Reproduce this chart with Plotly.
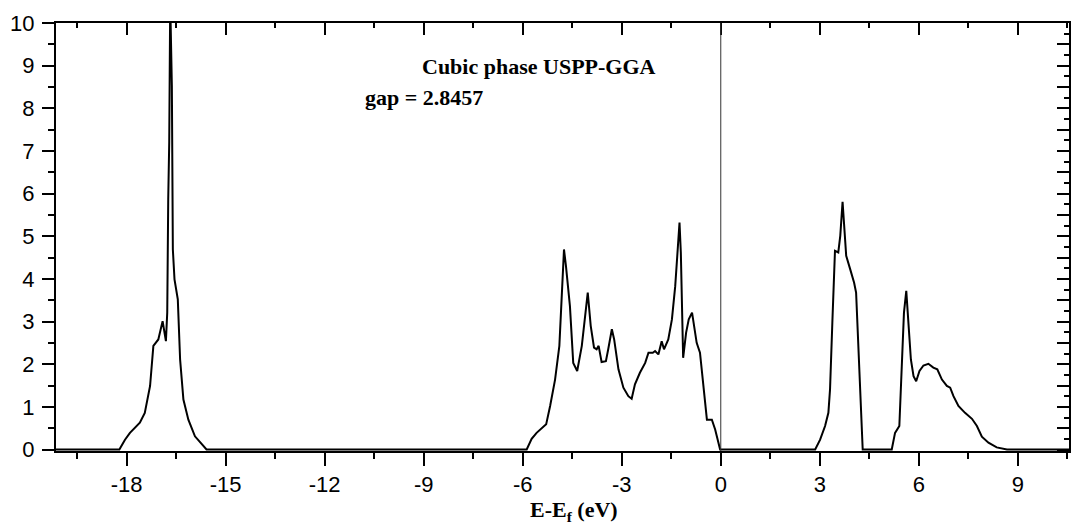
import plotly.graph_objects as go

# Energy relative to Fermi level (eV)
energy = [-20.5, -18.22, -18.05, -17.9, -17.6, -17.45, -17.29, -17.24, -17.19, -17.04,
          -16.91, -16.81, -16.77, -16.74, -16.71, -16.68, -16.63, -16.6, -16.55, -16.45,
          -16.38, -16.28, -16.13, -15.93, -15.58,
          -5.88, -5.73, -5.58, -5.29, -5.17, -5.02, -4.89, -4.82, -4.75, -4.69,
          -4.57, -4.47, -4.35, -4.21, -4.11, -4.03, -3.94, -3.84, -3.76, -3.7,
          -3.61, -3.48, -3.41, -3.3, -3.23, -3.1, -2.95, -2.8, -2.7, -2.6,
          -2.45, -2.29, -2.19, -2.06, -1.99, -1.89, -1.79, -1.72, -1.59, -1.48,
          -1.38, -1.3, -1.25, -1.21, -1.18, -1.14, -1.05, -0.97, -0.87, -0.78,
          -0.73, -0.63, -0.53, -0.42, -0.27, -0.17, -0.02,
          2.86, 3.01, 3.16, 3.26, 3.31, 3.38, 3.46, 3.56, 3.62, 3.69,
          3.75, 3.8, 3.92, 4.04, 4.1, 4.17, 4.24, 4.3,
          5.18, 5.28, 5.41, 5.48, 5.55, 5.62, 5.68, 5.76, 5.84, 5.92,
          6.02, 6.14, 6.29, 6.44, 6.56, 6.7, 6.85, 6.95, 7.05, 7.2,
          7.4, 7.61, 7.76, 7.91, 8.11, 8.36, 8.67, 11.0]

# Density of states
dos = [0, 0, 0.23, 0.39, 0.63, 0.86, 1.49, 1.96, 2.43, 2.58,
       3.01, 2.54, 3.21, 5.87, 7.2, 10.5, 8.53, 4.69, 3.99, 3.52,
       2.11, 1.17, 0.7, 0.31, 0,
       0, 0.25, 0.39, 0.59, 1.02, 1.64, 2.43, 3.52, 4.69, 4.3,
       3.36, 2.03, 1.84, 2.43, 3.05, 3.68, 2.9, 2.39, 2.35, 2.43,
       2.05, 2.07, 2.35, 2.82, 2.58, 1.88, 1.45, 1.25, 1.19, 1.53,
       1.8, 2.03, 2.27, 2.27, 2.31, 2.23, 2.54, 2.35, 2.58, 3.05,
       3.83, 4.85, 5.32, 4.62, 3.13, 2.15, 2.74, 3.05, 3.21, 2.74,
       2.5, 2.27, 1.49, 0.7, 0.7, 0.47, 0,
       0, 0.23, 0.55, 0.86, 1.41, 2.97, 4.66, 4.62, 5.01, 5.81,
       5.16, 4.54, 4.23, 3.91, 3.68, 2.27, 0.94, 0,
       0, 0.39, 0.55, 2.03, 3.21, 3.72, 3.05, 2.11, 1.72, 1.6,
       1.84, 1.97, 2.01, 1.92, 1.88, 1.64, 1.49, 1.45, 1.25, 1.02,
       0.86, 0.72, 0.55, 0.3, 0.16, 0.05, 0, 0]

x_tickvals = [-18, -15, -12, -9, -6, -3, 0, 3, 6, 9]
x_ticktext = ["-18", "-15", "-12", "-9", "-6", "-3", "0", "3", "6", "9"]
y_tickvals = [0, 1, 2, 3, 4, 5, 6, 7, 8, 9, 10]
y_ticktext = ["0", "1", "2", "3", "4", "5", "6", "7", "8", "9", "10"]

x_range = [-20.14, 10.55]
y_range = [-0.035, 10.0]

title_text = "Cubic phase USPP-GGA"
gap_text = "gap = 2.8457"
x_title = "<b>E-E<sub>f</sub> (eV)</b>"

tick_font = dict(family="Liberation Sans, Arial, sans-serif", size=22, color="black")
serif = "Liberation Serif, Times New Roman, serif"

fig = go.Figure()
fig.add_trace(go.Scatter(x=energy, y=dos, mode="lines",
                         line=dict(color="black", width=2),
                         showlegend=False, hoverinfo="skip"))
fig.add_trace(go.Scatter(x=[0], y=[0], xaxis="x2", yaxis="y2", mode="markers",
                         marker=dict(size=1, opacity=0),
                         showlegend=False, hoverinfo="skip"))

fig.add_shape(type="line", xref="x", yref="paper", x0=0, x1=0, y0=0, y1=1,
              line=dict(color="#333333", width=1))

fig.update_layout(
    width=1072, height=529,
    margin=dict(l=56, r=3, t=23, b=78),
    paper_bgcolor="white", plot_bgcolor="white",
    xaxis=dict(range=x_range, tickmode="array", tickvals=x_tickvals, ticktext=x_ticktext,
               ticks="outside", ticklen=13, tickwidth=2, tickcolor="black",
               showline=True, linewidth=2, linecolor="black",
               showgrid=False, zeroline=False, tickfont=tick_font,
               minor=dict(tickmode="linear", tick0=0, dtick=1.5, ticks="outside", ticklen=6,
                          tickwidth=2, tickcolor="black", showgrid=False)),
    yaxis=dict(range=y_range, tickmode="array", tickvals=y_tickvals, ticktext=y_ticktext,
               ticks="outside", ticklen=12, tickwidth=2, tickcolor="black",
               showline=True, linewidth=2, linecolor="black",
               showgrid=False, zeroline=False, tickfont=tick_font,
               ticklabelstandoff=3,
               minor=dict(tickmode="linear", tick0=0, dtick=0.5, ticks="outside", ticklen=6,
                          tickwidth=2, tickcolor="black", showgrid=False)),
    xaxis2=dict(range=x_range, overlaying="x", side="top", anchor="y",
                tickmode="linear", tick0=0, dtick=3,
                ticks="inside", ticklen=12, tickwidth=2, tickcolor="black",
                showline=True, linewidth=2, linecolor="black",
                showgrid=False, zeroline=False, showticklabels=False,
                minor=dict(tick0=0, dtick=1.5, ticks="inside", ticklen=5,
                           tickwidth=2, tickcolor="black", showgrid=False)),
    yaxis2=dict(range=y_range, overlaying="y", side="right", anchor="x",
                tickmode="linear", tick0=0, dtick=0.5,
                ticks="inside", ticklen=12, tickwidth=2, tickcolor="black",
                showline=True, linewidth=2, linecolor="black",
                showgrid=False, zeroline=False, showticklabels=False,
                minor=dict(tick0=0, dtick=0.25, ticks="inside", ticklen=5,
                           tickwidth=2, tickcolor="black", showgrid=False)),
    annotations=[
        dict(text="<b>" + title_text + "</b>", x=-9.11, y=8.99, xref="x", yref="y",
             xanchor="left", yanchor="middle", showarrow=False,
             font=dict(family=serif, size=22, color="black")),
        dict(text="<b>" + gap_text + "</b>", x=-10.83, y=8.26, xref="x", yref="y",
             xanchor="left", yanchor="middle", showarrow=False,
             font=dict(family=serif, size=22, color="black")),
        dict(text=x_title, x=0.511, y=-0.14, xref="paper", yref="paper",
             xanchor="center", yanchor="middle", showarrow=False,
             font=dict(family=serif, size=22, color="black")),
    ],
)

fig.write_html("out.html")
